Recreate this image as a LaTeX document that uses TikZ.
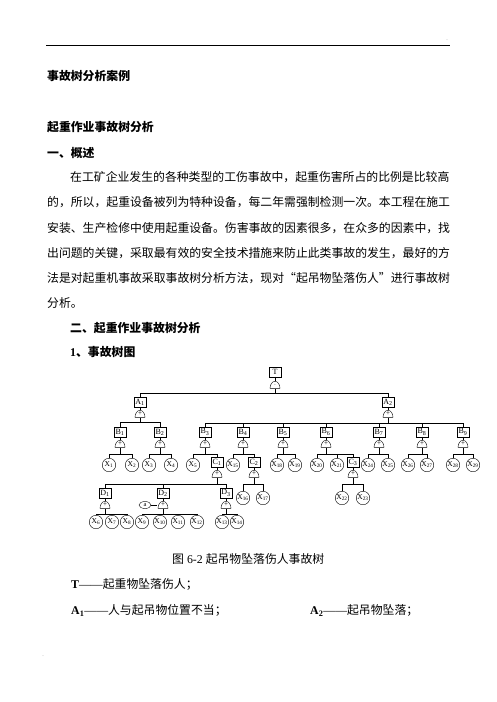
\documentclass[tikz,border=0pt]{standalone}
\usepackage{fontspec}
\setmainfont{Liberation Serif}
\newfontfamily\cjk{Noto Sans CJK SC}
\usetikzlibrary{shapes.geometric}

\begin{document}
\begin{tikzpicture}[x=1pt,y=-1pt,
 evt/.style={draw, rectangle, inner sep=0.5pt, minimum width=12.5pt, minimum height=9.5pt, font=\fontsize{8}{8}\selectfont},
 gate/.style={rectangle, inner sep=0pt, minimum width=11pt, minimum height=8pt, anchor=south, font=\fontsize{7}{7}\selectfont,
  path picture={\draw ([shift={(0.5pt,0.5pt)}]path picture bounding box.south west) -- ([shift={(-0.5pt,0.5pt)}]path picture bounding box.south east)
   arc[start angle=0, end angle=180, x radius=5pt, y radius=7pt] -- cycle;}},
 basic/.style={draw, circle, inner sep=0pt, minimum size=13.5pt, font=\fontsize{7.5}{7.5}\selectfont},
 cond/.style={draw, ellipse, inner sep=0pt, minimum width=12pt, minimum height=7pt, font=\fontsize{6.5}{6.5}\selectfont},
 body/.style={anchor=base west, inner sep=0pt, font=\fontsize{11.85}{14}\selectfont\cjk},
 head/.style={anchor=base west, inner sep=0pt, font=\fontsize{11.85}{14}\selectfont\cjk\bfseries}]
\useasboundingbox (0,0) rectangle (496,702);

\draw[line width=0.7pt] (46,45) -- (450,45);
\node[inner sep=0, font=\fontsize{4}{4}\selectfont] (dot1) at (447,40) {.};
\node[inner sep=0, font=\fontsize{4}{4}\selectfont] (dot2) at (43,656) {.};

\node[head] (title) at (47,80.5) {事故树分析案例};
\node[head] (sub) at (47,131) {起重作业事故树分析};
\node[head] (s1) at (47,157) {一、概述};
\node[body] (p1) at (70,181.5) {在工矿企业发生的各种类型的工伤事故中，起重伤害所占的比例是比较高};
\node[body] (p2) at (47,206.5) {的，所以，起重设备被列为特种设备，每二年需强制检测一次。本工程在施工};
\node[body] (p3) at (47,232.5) {安装、生产检修中使用起重设备。伤害事故的因素很多，在众多的因素中，找};
\node[body] (p4) at (47,257.5) {出问题的关键，采取最有效的安全技术措施来防止此类事故的发生，最好的方};
\node[body] (p5) at (47,282) {法是对起重机事故采取事故树分析方法，现对“起吊物坠落伤人”进行事故树};
\node[body] (p6) at (47,307) {分析。};
\node[head] (s2) at (70,332) {二、起重作业事故树分析};
\node[head] (s21) at (70,356) {{\rmfamily 1}、事故树图};

% tree
\node[evt] (T) at (275,372) {T};
\node[gate] (gT) at (275,389) {$\cdot$};
\draw (T) -- (gT);
\node[evt] (A1) at (140,402) {A\textsubscript{1}};
\node[evt] (A2) at (388,402) {A\textsubscript{2}};
\node[gate] (gA1) at (140,418) {+};
\node[gate] (gA2) at (388,418) {+};
\draw (A1) -- (gA1) (A2) -- (gA2);
\foreach \c in {A1,A2}
\draw (gT.south) -- ++(0,4) -| (\c.north);

\foreach \n/\x in {1/120,2/160,3/205,4/243,5/283,6/326,7/379,8/422,9/463}{
\node[evt] (B\n) at (\x,432) {B\textsubscript{\n}};
\node[gate] (gB\n) at (\x,448) {+};
\draw (B\n) -- (gB\n);
}
\foreach \c in {B1,B2}
\draw (gA1.south) -- ++(0,4.5) -| (\c.north);
\foreach \c in {B3,B4,B5,B6,B7,B8,B9}
\draw (gA2.south) -- ++(0,5) -| (\c.north);

\foreach \n/\x in {1/109,2/132,3/149,4/171,5/193,15/233,18/277,19/295,20/317,21/337,24/368,25/388,26/408,27/427,28/453,29/473}
\node[basic] (X\n) at (\x,465) {X\textsubscript{\n}};
\foreach \n/\x in {1/217,2/254,3/353}{
\node[evt] (C\n) at (\x,462) {C\textsubscript{\n}};
\node[gate] (gC\n) at (\x,478) {+};
\draw (C\n) -- (gC\n);
}
\foreach \g/\c in {B1/X1,B1/X2,B2/X3,B2/X4,B3/X5,B3/C1,B4/X15,B4/C2,B5/X18,B5/X19,B6/X20,B6/X21,B6/C3,B7/X24,B7/X25,B8/X26,B8/X27,B9/X28,B9/X29}
\draw (g\g.south) -- ++(0,6) -| (\c.north);

\foreach \n/\x in {1/105,2/163,3/226}{
\node[evt] (D\n) at (\x,493) {D\textsubscript{\n}};
\node[gate] (gD\n) at (\x,509) {+};
\draw (D\n) -- (gD\n);
}
\foreach \c in {D1,D2,D3}
\draw (gC1.south) -- ++(0,6) -| (\c.north);
\node[cond] (a) at (145,505) {a};
\draw (a.east) -- (a.east -| gD2.west);

\foreach \n/\x in {6/96,7/112,8/127,9/142,10/160,11/178,12/197,13/222,14/237}
\node[basic] (X\n) at (\x,522) {X\textsubscript{\n}};
\foreach \n/\x in {16/243,17/263,22/342,23/363}
\node[basic] (X\n) at (\x,498) {X\textsubscript{\n}};
\foreach \g/\c in {D1/X6,D1/X7,D1/X8,D2/X9,D2/X10,D2/X11,D2/X12,D3/X13,D3/X14}
\draw (g\g.south) -- ++(0,5) -| (\c.north);
\foreach \g/\c in {C2/X16,C2/X17,C3/X22,C3/X23}
\draw (g\g.south) -- ++(0,6) -| (\c.north);

\node[anchor=base west, inner sep=0, font=\fontsize{11.85}{14}\selectfont] (cap) at (172,563) {{\cjk 图} 6-2 {\cjk 起吊物坠落伤人事故树}};
\node[anchor=base west, inner sep=0, font=\fontsize{11.85}{14}\selectfont] (dT) at (71,588) {\textbf{T}——{\cjk 起重物坠落伤人；}};
\node[anchor=base west, inner sep=0, font=\fontsize{11.85}{14}\selectfont] (dA1) at (71,614.5) {\textbf{A\textsubscript{1}}——{\cjk 人与起吊物位置不当；}};
\node[anchor=base west, inner sep=0, font=\fontsize{11.85}{14}\selectfont] (dA2) at (310,614.5) {\textbf{A\textsubscript{2}}——{\cjk 起吊物坠落；}};
\end{tikzpicture}
\end{document}
